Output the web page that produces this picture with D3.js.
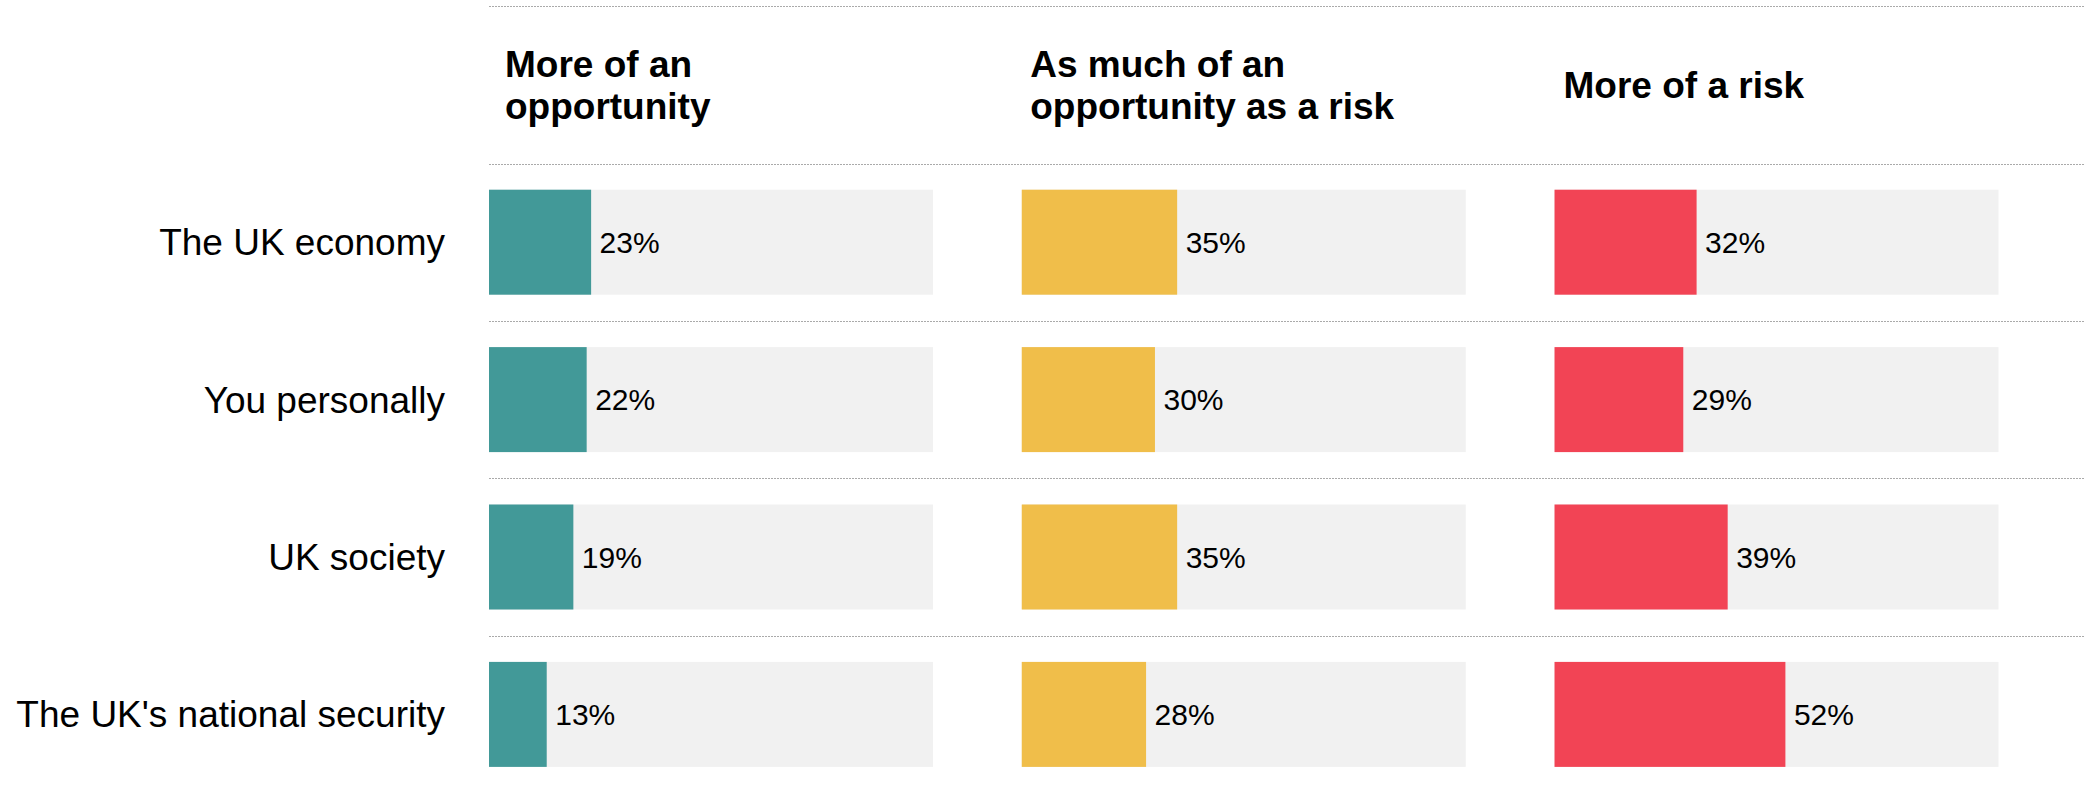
<!DOCTYPE html>
<html>
<head>
<meta charset="utf-8">
<script src="https://cdn.jsdelivr.net/npm/d3@7"></script>
<style>
  html, body { margin: 0; padding: 0; background: #fff; }
  svg { display: block; font-family: "Liberation Sans", Arial, sans-serif; }
</style>
</head>
<body>
<svg id="chart" width="2084" height="789"></svg>
<script>
// Survey items (rows) and answer groups (panels)
const categories = ["The UK economy", "You personally", "UK society", "The UK's national security"];
const series = ["More of an opportunity", "As much of an opportunity as a risk", "More of a risk"];
const headerLines = [["More of an", "opportunity"], ["As much of an", "opportunity as a risk"], ["More of a risk"]];

// Share of respondents (%) per row, one array per panel
const opportunity = [23, 22, 19, 13];
const both = [35, 30, 35, 28];
const risk = [32, 29, 39, 52];
const valuesBySeries = [opportunity, both, risk];

const colors = ["#429998", "#F0BE4A", "#F24455"];
const trackColor = "#F1F1F1";

const W = 2084, H = 789;
const svg = d3.select("#chart");

// Layout
const headerTop = 6, headerBottom = 163.5;
const rowStep = 157.4;
const barFrac = 0.667;
const labelRight = 445;
const headerOffsets = [16, 8.5, 9];

const y = d3.scaleBand()
  .domain(categories)
  .range([headerBottom, headerBottom + rowStep * categories.length])
  .padding(0);

const panel = d3.scaleBand()
  .domain(series)
  .range([489, 1998.5])
  .paddingInner(1 / 6)
  .paddingOuter(0);

const x = d3.scaleLinear().domain([0, 100]).range([0, panel.bandwidth()]);

const barH = y.bandwidth() * barFrac;
const barY = c => y(c) + (y.bandwidth() - barH) / 2;
const midY = c => y(c) + y.bandwidth() / 2;

// Dotted separators: header top and each row top
const sepYs = [headerTop].concat(categories.map(c => y(c)));
svg.append("g").selectAll("line")
  .data(sepYs)
  .join("line")
  .attr("x1", panel.range()[0])
  .attr("x2", W)
  .attr("y1", d => Math.round(d) + 0.5)
  .attr("y2", d => Math.round(d) + 0.5)
  .attr("stroke", "#aaaaaa")
  .attr("stroke-width", 1)
  .attr("stroke-dasharray", "2,1");

// Column headers
const headerMid = 98;
const lineGap = 42;
series.forEach((s, i) => {
  const lines = headerLines[i];
  const t = svg.append("text")
    .attr("x", panel(s) + headerOffsets[i])
    .attr("font-size", 37)
    .attr("font-weight", "bold")
    .attr("fill", "#000");
  lines.forEach((ln, j) => {
    t.append("tspan")
      .attr("x", panel(s) + headerOffsets[i])
      .attr("y", headerMid + (j - (lines.length - 1) / 2) * lineGap)
      .text(ln);
  });
});

// Row labels
svg.append("g").selectAll("text")
  .data(categories)
  .join("text")
  .attr("x", labelRight)
  .attr("y", c => midY(c) + 13)
  .attr("text-anchor", "end")
  .attr("font-size", 37)
  .attr("fill", "#000")
  .text(c => c);

// Panels: track, bar, value label
series.forEach((s, i) => {
  const g = svg.append("g").attr("transform", `translate(${panel(s)},0)`);
  const rows = categories.map((c, k) => ({ c, v: valuesBySeries[i][k] }));

  g.selectAll("rect.track")
    .data(rows)
    .join("rect")
    .attr("class", "track")
    .attr("x", x(0))
    .attr("y", d => barY(d.c))
    .attr("width", x(100) - x(0))
    .attr("height", barH)
    .attr("fill", trackColor);

  g.selectAll("rect.bar")
    .data(rows)
    .join("rect")
    .attr("class", "bar")
    .attr("x", x(0))
    .attr("y", d => barY(d.c))
    .attr("width", d => x(d.v) - x(0))
    .attr("height", barH)
    .attr("fill", colors[i]);

  g.selectAll("text.val")
    .data(rows)
    .join("text")
    .attr("class", "val")
    .attr("x", d => x(d.v) + 8.5)
    .attr("y", d => midY(d.c) + 10.7)
    .attr("font-size", 30)
    .attr("fill", "#000")
    .text(d => d.v + "%");
});
</script>
</body>
</html>
